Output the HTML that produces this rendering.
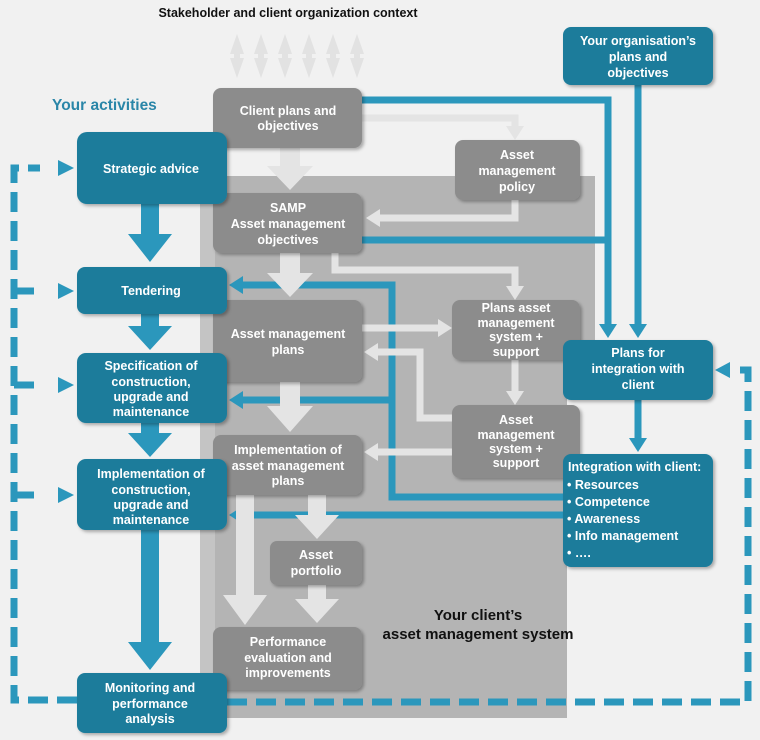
<!DOCTYPE html>
<html><head><meta charset="utf-8"><style>
body{margin:0;background:#f1f1f1}
svg{display:block}
text{font-family:"Liberation Sans",Arial,sans-serif;font-weight:bold}
.w{fill:#fff;font-size:12.5px;text-anchor:middle}
</style></head><body>
<svg width="760" height="740" viewBox="0 0 760 740" xmlns="http://www.w3.org/2000/svg">
<defs>
<filter id="sh" x="-10%" y="-10%" width="130%" height="130%"><feDropShadow dx="2" dy="2" stdDeviation="1.5" flood-color="#000" flood-opacity="0.3"/></filter>
<marker id="ta" markerWidth="14" markerHeight="18" refX="0" refY="9" orient="auto" markerUnits="userSpaceOnUse"><path d="M0,0L14,9L0,18z" fill="#2b97bc"/></marker>
<marker id="ga" markerWidth="14" markerHeight="18" refX="0" refY="9" orient="auto" markerUnits="userSpaceOnUse"><path d="M0,0L14,9L0,18z" fill="#e4e4e4"/></marker>
</defs>
<rect width="760" height="740" fill="#f1f1f1"/>
<path d="M200 176H595V340H567V718H200Z" fill="#b4b4b4"/>
<path d="M200 176H215V718H200Z" fill="#c4c4c4"/>
<text x="288" y="17" font-size="12.5" fill="#111" text-anchor="middle">Stakeholder and client organization context</text>
<text x="52" y="110" font-size="15.5" fill="#2a86a8">Your activities</text>
<text x="478" y="620" font-size="15" fill="#111" text-anchor="middle">Your client’s</text>
<text x="478" y="639" font-size="15" fill="#111" text-anchor="middle">asset management system</text>
<g fill="#e2e2e2">
<path d="M230 54l7-20 7 20h-4v4h4l-7 20-7-20h4v-4z"/>
<path d="M254 54l7-20 7 20h-4v4h4l-7 20-7-20h4v-4z"/>
<path d="M278 54l7-20 7 20h-4v4h4l-7 20-7-20h4v-4z"/>
<path d="M302 54l7-20 7 20h-4v4h4l-7 20-7-20h4v-4z"/>
<path d="M326 54l7-20 7 20h-4v4h4l-7 20-7-20h4v-4z"/>
<path d="M350 54l7-20 7 20h-4v4h4l-7 20-7-20h4v-4z"/>
</g>
<g fill="none" stroke="#2b97bc" stroke-width="7">
<path d="M362 100H608V324" marker-end="url(#ta)"/>
<path d="M638 85V324" marker-end="url(#ta)"/>
<path d="M362 240H608"/>
<path d="M563 497H392V285H243" marker-end="url(#ta)"/>
<path d="M392 400H243" marker-end="url(#ta)"/>
<path d="M563 515H243" marker-end="url(#ta)"/>
<path d="M638 400V438" marker-end="url(#ta)"/>
</g>
<g fill="none" stroke="#2b97bc" stroke-width="7" stroke-dasharray="20 9">
<path d="M227 702H748V370H732"/>
<path d="M77 700H14V168H40"/>
<path d="M14 291H40M14 385H40M14 495H40"/>
</g>
<g fill="#2b97bc">
<path d="M730 362l-15 8 15 8z"/>
<path d="M58 160l16 8-16 8z"/><path d="M58 283l16 8-16 8z"/><path d="M58 377l16 8-16 8z"/><path d="M58 487l16 8-16 8z"/>
<path d="M141 204h18v30h13l-22 28-22-28h13z"/>
<path d="M141 314h18v12h13l-22 24-22-24h13z"/>
<path d="M141 423h18v10h13l-22 24-22-24h13z"/>
<path d="M141 530h18v112h13l-22 28-22-28h13z"/>
</g>
<g fill="none" stroke="#e4e4e4" stroke-width="7">
<path d="M362 118H515V126" marker-end="url(#ga)"/>
<path d="M515 200V218H380" marker-end="url(#ga)"/>
<path d="M335 253V270H515V286" marker-end="url(#ga)"/>
<path d="M362 328H438" marker-end="url(#ga)"/>
<path d="M515 360V391" marker-end="url(#ga)"/>
<path d="M452 418H420V352H378" marker-end="url(#ga)"/>
<path d="M452 452H378" marker-end="url(#ga)"/>
</g>
<g fill="#e4e4e4">
<path d="M280 148h20v18h13l-23 24-23-24h13z"/>
<path d="M280 253h20v20h13l-23 24-23-24h13z"/>
<path d="M280 382h20v24h13l-23 26-23-26h13z"/>
<path d="M308 495h18v20h13l-22 24-22-24h13z"/>
<path d="M236 495h18v100h13l-22 30-22-30h13z"/>
<path d="M308 585h18v14h13l-22 24-22-24h13z"/>
</g>
<g fill="#8c8c8c" filter="url(#sh)">
<rect x="213" y="88" width="149" height="60" rx="8"/>
<rect x="455" y="140" width="125" height="60" rx="8"/>
<rect x="213" y="193" width="149" height="60" rx="8"/>
<rect x="213" y="300" width="149" height="82" rx="8"/>
<rect x="452" y="300" width="128" height="60" rx="8"/>
<rect x="452" y="405" width="128" height="73" rx="8"/>
<rect x="213" y="435" width="149" height="60" rx="8"/>
<rect x="270" y="541" width="92" height="44" rx="7"/>
<rect x="213" y="627" width="149" height="63" rx="8"/>
</g>
<g fill="#1f7c9b" filter="url(#sh)">
<rect x="563" y="27" width="150" height="58" rx="8"/>
<rect x="77" y="132" width="150" height="72" rx="10"/>
<rect x="77" y="267" width="150" height="47" rx="8"/>
<rect x="77" y="353" width="150" height="70" rx="9"/>
<rect x="77" y="459" width="150" height="71" rx="9"/>
<rect x="77" y="673" width="150" height="60" rx="8"/>
<rect x="563" y="340" width="150" height="60" rx="8"/>
<rect x="563" y="454" width="150" height="113" rx="8"/>
</g>
<g>
<text x="288" y="115" class="w">Client plans and</text><text x="288" y="130" class="w">objectives</text>
<text x="517" y="159" class="w">Asset</text><text x="517" y="175" class="w">management</text><text x="517" y="191" class="w">policy</text>
<text x="288" y="212" class="w">SAMP</text><text x="288" y="228" class="w">Asset management</text><text x="288" y="244" class="w">objectives</text>
<text x="288" y="338" class="w">Asset management</text><text x="288" y="354" class="w">plans</text>
<text x="516" y="312" class="w">Plans asset</text><text x="516" y="327" class="w">management</text><text x="516" y="341" class="w">system +</text><text x="516" y="356" class="w">support</text>
<text x="516" y="424" class="w">Asset</text><text x="516" y="439" class="w">management</text><text x="516" y="453" class="w">system +</text><text x="516" y="467" class="w">support</text>
<text x="288" y="454" class="w">Implementation of</text><text x="288" y="470" class="w">asset management</text><text x="288" y="485" class="w">plans</text>
<text x="316" y="559" class="w">Asset</text><text x="316" y="575" class="w">portfolio</text>
<text x="288" y="646" class="w">Performance</text><text x="288" y="662" class="w">evaluation and</text><text x="288" y="677" class="w">improvements</text>
<text x="638" y="45" class="w">Your organisation’s</text><text x="638" y="61" class="w">plans and</text><text x="638" y="77" class="w">objectives</text>
<text x="151" y="173" class="w">Strategic advice</text>
<text x="151" y="295" class="w">Tendering</text>
<text x="151" y="370" class="w">Specification of</text><text x="151" y="386" class="w">construction,</text><text x="151" y="401" class="w">upgrade and</text><text x="151" y="416" class="w">maintenance</text>
<text x="151" y="478" class="w">Implementation of</text><text x="151" y="494" class="w">construction,</text><text x="151" y="509" class="w">upgrade and</text><text x="151" y="524" class="w">maintenance</text>
<text x="150" y="692" class="w">Monitoring and</text><text x="150" y="708" class="w">performance</text><text x="150" y="723" class="w">analysis</text>
<text x="638" y="357" class="w">Plans for</text><text x="638" y="373" class="w">integration with</text><text x="638" y="389" class="w">client</text>
</g>
<g fill="#fff" font-size="12.5">
<text x="568" y="471">Integration with client:</text>
<text x="567" y="489">• Resources</text>
<text x="567" y="506">• Competence</text>
<text x="567" y="523">• Awareness</text>
<text x="567" y="540">• Info management</text>
<text x="567" y="557">• ….</text>
</g>
</svg>
</body></html>
